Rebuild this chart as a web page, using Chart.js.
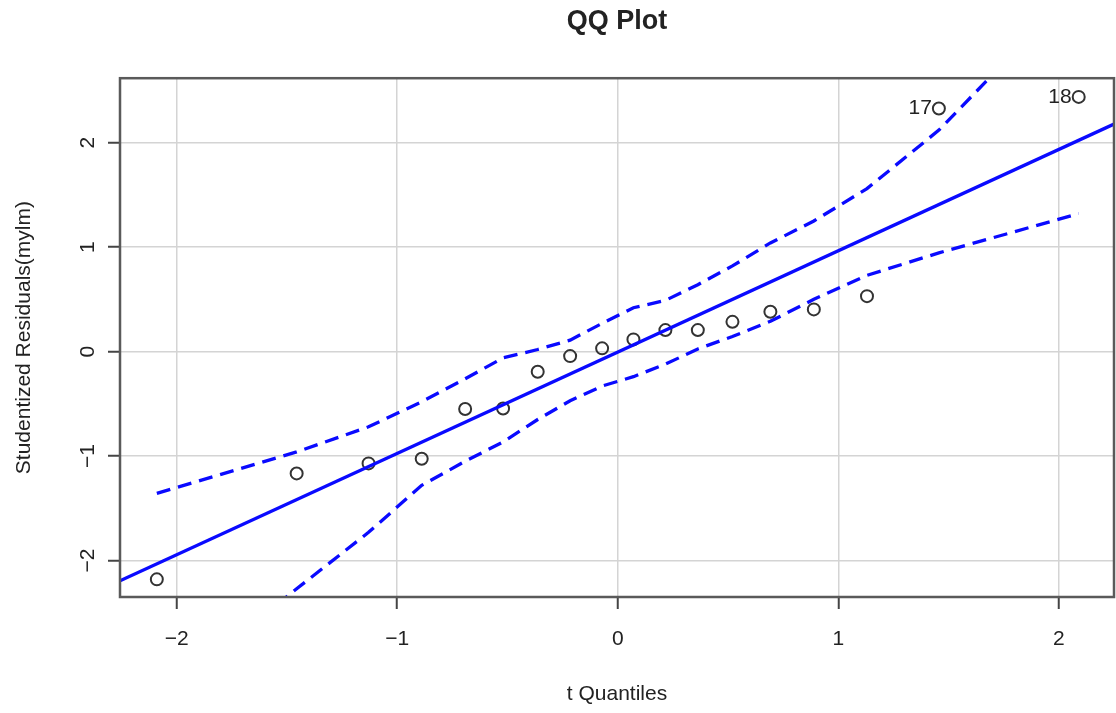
<!DOCTYPE html>
<html lang="en">
<head>
    <meta charset="UTF-8">
    <title>QQ Plot</title>
    <style>
        body { margin: 0; background: #fff; }
        #wrap { width: 1116px; height: 713px; }
    </style>
</head>
<body>
    <div id="wrap"><canvas id="qq-chart" width="1116" height="713"></canvas></div>
    <script src="https://cdn.jsdelivr.net/npm/chart.js"></script>
    <script>
        // t quantiles (x) and sorted studentized residuals (y)
        const tQuantiles = [-2.09, -1.456, -1.13, -0.889, -0.692, -0.52, -0.363, -0.216, -0.071,
                             0.071, 0.216, 0.363, 0.52, 0.692, 0.889, 1.13, 1.456, 2.09];
        const residuals = [-2.18, -1.166, -1.07, -1.026, -0.55, -0.544, -0.193, -0.043, 0.031,
                            0.117, 0.206, 0.206, 0.285, 0.381, 0.404, 0.531, 2.327, 2.438];

        // confidence envelope (dashed)
        const upperBand = [-1.357, -0.96, -0.72, -0.48, -0.26, -0.06, 0.02, 0.11, 0.27,
                            0.42, 0.49, 0.64, 0.82, 1.04, 1.25, 1.56, 2.12, 3.5];
        const lowerBand = [-3.35, -2.27, -1.73, -1.28, -1.05, -0.865, -0.65, -0.47, -0.33,
                           -0.24, -0.12, 0.025, 0.145, 0.29, 0.5, 0.73, 0.945, 1.32];

        // reference line
        const lineSlope = 0.97;
        const lineIntercept = -0.005;

        // labelled outliers (index into the arrays above)
        const labelIndex = [16, 17];
        const labelText = ['17', '18'];

        const xTicks = [-2, -1, 0, 1, 2];
        const yTicks = [-2, -1, 0, 1, 2];
        const xRange = [-2.257, 2.25];
        const yRange = [-2.349, 2.617];

        const BLUE = '#0a0aff';
        const TEXT = '#222';
        const FONT = '"Liberation Sans", Arial, Helvetica, sans-serif';

        const fmt = v => (v < 0 ? '\u2212' + Math.abs(v) : String(v));
        const pts = ys => tQuantiles.map((x, i) => ({ x: x, y: ys[i] }));

        // box around the plot + outlier labels
        const extras = {
            id: 'extras',
            afterDatasetsDraw(chart) {
                const ctx = chart.ctx;
                const meta = chart.getDatasetMeta(3);
                ctx.save();
                ctx.fillStyle = TEXT;
                ctx.font = '21px ' + FONT;
                ctx.textAlign = 'right';
                ctx.textBaseline = 'middle';
                labelIndex.forEach((idx, k) => {
                    const p = meta.data[idx];
                    ctx.fillText(labelText[k], p.x - 7, p.y);
                });
                ctx.restore();
            },
            afterDraw(chart) {
                const a = chart.chartArea;
                const ctx = chart.ctx;
                ctx.save();
                ctx.strokeStyle = '#5a5a5a';
                ctx.lineWidth = 2.5;
                ctx.strokeRect(a.left, a.top, a.right - a.left, a.bottom - a.top);
                ctx.restore();
            }
        };

        // no extra room for the first/last tick label
        const noEdgePad = s => {
            s.paddingLeft = 0; s.paddingRight = 0;
            s.paddingTop = 0; s.paddingBottom = 0;
        };

        const ctx = document.getElementById('qq-chart').getContext('2d');
        const chart = new Chart(ctx, {
            type: 'scatter',
            data: {
                datasets: [
                    {
                        label: 'upper',
                        data: pts(upperBand),
                        showLine: true,
                        borderColor: BLUE,
                        borderWidth: 3.3,
                        borderDash: [14, 8],
                        pointRadius: 0,
                        clip: 0
                    },
                    {
                        label: 'lower',
                        data: pts(lowerBand),
                        showLine: true,
                        borderColor: BLUE,
                        borderWidth: 3.3,
                        borderDash: [14, 8],
                        pointRadius: 0,
                        clip: 0
                    },
                    {
                        label: 'line',
                        data: xRange.map(x => ({ x: x, y: lineIntercept + lineSlope * x })),
                        showLine: true,
                        borderColor: BLUE,
                        borderWidth: 3.3,
                        pointRadius: 0,
                        clip: 0
                    },
                    {
                        label: 'residuals',
                        data: pts(residuals),
                        showLine: false,
                        pointRadius: 6,
                        pointBorderWidth: 2,
                        borderColor: '#333',
                        backgroundColor: 'rgba(0,0,0,0)'
                    }
                ]
            },
            options: {
                responsive: false,
                animation: false,
                layout: { autoPadding: false, padding: { right: 2 } },
                plugins: {
                    legend: { display: false },
                    tooltip: { enabled: false },
                    title: {
                        display: true,
                        text: 'QQ Plot',
                        fullSize: false,
                        color: TEXT,
                        font: { family: FONT, size: 27, weight: 'bold' },
                        padding: { top: 5.8, bottom: 40.0 }
                    }
                },
                scales: {
                    x: {
                        type: 'linear',
                        min: xRange[0],
                        max: xRange[1],
                        afterBuildTicks: s => { s.ticks = xTicks.map(v => ({ value: v })); },
                        afterFit: s => { s.height = 116; noEdgePad(s); },
                        grid: { color: '#d4d4d4', lineWidth: 1.5, tickColor: '#444', tickLength: 12, tickWidth: 2 },
                        border: { display: false },
                        ticks: {
                            color: TEXT,
                            padding: 18,
                            font: { family: FONT, size: 21 },
                            maxRotation: 0,
                            callback: v => fmt(v)
                        },
                        title: {
                            display: true,
                            text: 't Quantiles',
                            color: TEXT,
                            font: { family: FONT, size: 21 },
                            padding: { top: 0, bottom: 6.4 }
                        }
                    },
                    y: {
                        type: 'linear',
                        min: yRange[0],
                        max: yRange[1],
                        afterBuildTicks: s => { s.ticks = yTicks.map(v => ({ value: v })); },
                        afterFit: s => { s.width = 120; noEdgePad(s); },
                        grid: { color: '#d4d4d4', lineWidth: 1.5, tickColor: '#444', tickLength: 12, tickWidth: 2 },
                        border: { display: false },
                        ticks: {
                            color: TEXT,
                            padding: 8,
                            crossAlign: 'center',
                            minRotation: 90,
                            maxRotation: 90,
                            font: { family: FONT, size: 21 },
                            callback: v => fmt(v)
                        },
                        title: {
                            display: true,
                            text: 'Studentized Residuals(mylm)',
                            color: TEXT,
                            font: { family: FONT, size: 21 },
                            padding: { top: 11.4, bottom: 0 }
                        }
                    }
                }
            },
            plugins: [extras]
        });
    </script>
</body>
</html>
